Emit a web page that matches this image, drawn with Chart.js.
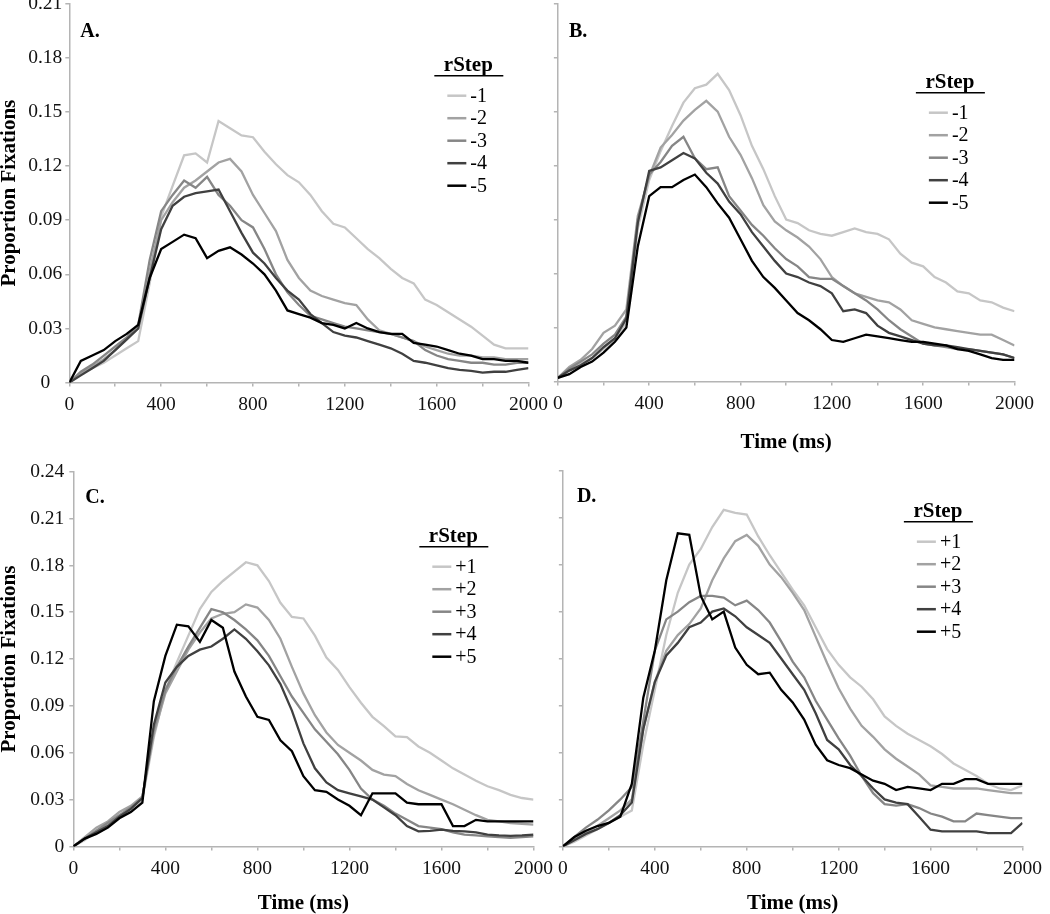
<!DOCTYPE html>
<html>
<head>
<meta charset="utf-8">
<script src="https://cdn.jsdelivr.net/npm/chart.js@4.4.1/dist/chart.umd.min.js"></script>
<style>
  html, body { margin: 0; padding: 0; background: #fff; }
  body { width: 1050px; height: 914px; position: relative; overflow: hidden; }
  .panel { position: absolute; }
</style>
</head>
<body>
<div class="panel" id="panelA"></div>
<div class="panel" id="panelB"></div>
<div class="panel" id="panelC"></div>
<div class="panel" id="panelD"></div>
<script>
// Time points (ms)
const timeMs = [0, 50, 100, 150, 200, 250, 300, 350, 400, 450, 500, 550, 600, 650, 700, 750, 800, 850, 900, 950,
  1000, 1050, 1100, 1150, 1200, 1250, 1300, 1350, 1400, 1450, 1500, 1550, 1600, 1650, 1700, 1750, 1800, 1850, 1900, 1950, 2000];

const xTicks = [0, 200, 400, 600, 800, 1000, 1200, 1400, 1600, 1800, 2000];
const yTicksTop = [0, 0.03, 0.06, 0.09, 0.12, 0.15, 0.18, 0.21];
const yTicksBottom = [0, 0.03, 0.06, 0.09, 0.12, 0.15, 0.18, 0.21, 0.24];

const labelsNeg = ['-1', '-2', '-3', '-4', '-5'];
const labelsPos = ['+1', '+2', '+3', '+4', '+5'];

// Panel A (rStep -1 .. -5)
const aM1 = [0, .005, .008, .011, .015, .019, .023, .055, .092, .109, .126, .127, .122, .145, .141, .137, .136, .128, .121, .115, .111, .104, .095, .088, .086, .080, .074, .069, .063, .058, .055, .046, .043, .039, .035, .031, .026, .021, .019, .019, .019];
const aM2 = [0, .005, .009, .013, .018, .024, .030, .062, .090, .100, .108, .112, .117, .122, .124, .117, .104, .094, .084, .068, .058, .051, .048, .046, .044, .043, .035, .029, .027, .025, .023, .020, .018, .016, .015, .015, .014, .014, .013, .013, .013];
const aM3 = [0, .006, .010, .015, .020, .025, .032, .068, .095, .104, .112, .108, .114, .104, .098, .090, .086, .074, .060, .050, .043, .037, .035, .033, .031, .030, .029, .028, .027, .025, .023, .018, .015, .013, .012, .011, .011, .010, .010, .011, .011];
const aM4 = [0, .004, .008, .012, .018, .024, .030, .058, .085, .098, .103, .105, .106, .107, .095, .083, .072, .066, .058, .051, .046, .038, .033, .028, .026, .025, .023, .021, .019, .016, .012, .011, .0095, .008, .007, .0065, .0055, .006, .006, .007, .008];
const aM5 = [0, .012, .015, .018, .023, .027, .032, .058, .074, .078, .082, .080, .069, .073, .075, .071, .066, .060, .051, .040, .038, .036, .033, .032, .030, .033, .030, .028, .027, .027, .022, .021, .020, .018, .016, .015, .013, .013, .012, .012, .011];

// Panel B (rStep -1 .. -5)
const bM1 = [.002, .006, .010, .013, .018, .023, .033, .085, .112, .128, .142, .155, .163, .165, .171, .162, .148, .131, .118, .103, .090, .088, .084, .082, .081, .083, .085, .083, .082, .079, .071, .066, .064, .058, .055, .050, .049, .045, .044, .041, .039];
const bM2 = [.002, .008, .012, .018, .027, .031, .040, .092, .114, .130, .137, .145, .151, .156, .150, .136, .126, .113, .098, .089, .084, .080, .075, .068, .058, .053, .049, .047, .045, .044, .040, .034, .032, .030, .029, .028, .027, .026, .026, .023, .020];
const bM3 = [.002, .007, .011, .015, .021, .026, .036, .090, .115, .122, .131, .136, .124, .118, .119, .103, .095, .087, .081, .074, .068, .064, .058, .057, .057, .053, .049, .045, .040, .034, .029, .025, .021, .020, .019, .018, .018, .017, .016, .015, .013];
const bM4 = [.002, .006, .009, .013, .019, .024, .035, .088, .117, .119, .123, .127, .124, .116, .110, .100, .093, .083, .075, .067, .060, .058, .055, .053, .049, .039, .040, .038, .031, .027, .025, .023, .021, .020, .020, .019, .018, .017, .016, .015, .013];
const bM5 = [.002, .004, .008, .011, .016, .022, .030, .075, .103, .108, .108, .112, .115, .108, .099, .091, .079, .067, .058, .052, .045, .038, .034, .029, .023, .022, .024, .026, .025, .024, .023, .022, .022, .021, .020, .018, .017, .015, .013, .012, .012];

// Panel C (rStep +1 .. +5)
const cP1 = [0, .004, .010, .014, .019, .023, .030, .070, .100, .118, .135, .152, .163, .170, .176, .182, .180, .170, .156, .147, .146, .135, .121, .113, .102, .092, .083, .077, .0705, .070, .064, .060, .055, .050, .046, .042, .0385, .036, .033, .031, .030];
const cP2 = [0, .006, .012, .016, .022, .026, .032, .072, .098, .112, .126, .137, .146, .149, .150, .155, .153, .145, .133, .115, .098, .084, .073, .065, .060, .055, .049, .046, .045, .040, .036, .033, .030, .027, .0235, .020, .017, .016, .015, .0145, .014];
const cP3 = [0, .005, .010, .015, .020, .025, .031, .075, .100, .115, .128, .140, .152, .150, .145, .139, .132, .122, .109, .096, .0855, .075, .067, .059, .049, .037, .030, .026, .021, .017, .013, .012, .011, .009, .0075, .007, .0064, .006, .0055, .006, .0065];
const cP4 = [0, .005, .009, .013, .019, .024, .031, .078, .105, .115, .122, .126, .128, .133, .139, .133, .125, .116, .104, .087, .066, .050, .041, .036, .034, .032, .030, .025, .020, .013, .0096, .010, .0107, .010, .0096, .009, .0075, .007, .0068, .007, .0075];
const cP5 = [0, .005, .008, .012, .018, .022, .028, .093, .122, .142, .141, .131, .145, .140, .112, .096, .083, .081, .068, .061, .045, .036, .035, .030, .026, .020, .034, .034, .034, .028, .027, .027, .027, .013, .013, .017, .016, .016, .016, .016, .016];

// Panel D (rStep +1 .. +5)
const dP1 = [0, .003, .007, .011, .015, .019, .023, .065, .100, .135, .162, .180, .190, .204, .215, .213, .212, .198, .186, .175, .164, .154, .140, .126, .116, .108, .102, .094, .083, .077, .072, .068, .064, .059, .053, .049, .045, .040, .037, .036, .039];
const dP2 = [0, .005, .009, .013, .018, .023, .030, .075, .105, .125, .135, .142, .152, .170, .184, .195, .199, .192, .180, .172, .162, .151, .134, .117, .101, .088, .077, .070, .062, .056, .051, .046, .039, .038, .037, .037, .037, .036, .035, .034, .034];
const dP3 = [0, .006, .012, .017, .023, .030, .038, .080, .125, .145, .150, .156, .160, .160, .159, .154, .157, .151, .143, .131, .118, .108, .093, .081, .069, .058, .045, .034, .027, .026, .027, .0245, .021, .019, .016, .016, .021, .020, .019, .018, .018];
const dP4 = [0, .004, .008, .011, .015, .020, .028, .075, .105, .122, .130, .140, .143, .150, .152, .147, .140, .135, .130, .120, .110, .100, .085, .068, .062, .052, .045, .037, .030, .028, .027, .019, .0107, .0096, .0096, .0096, .0096, .0085, .0085, .0085, .015];
const dP5 = [0, .006, .010, .013, .015, .019, .040, .095, .125, .170, .200, .199, .160, .145, .150, .127, .116, .110, .111, .100, .092, .081, .065, .055, .052, .050, .046, .042, .040, .036, .038, .037, .036, .040, .040, .043, .043, .040, .040, .040, .040];

const seriesColors = ['#c6c6c6', '#a2a2a2', '#868686', '#404040', '#000000'];
const FONT = "'Liberation Serif', 'Times New Roman', serif";
const AXIS_GRAY = '#b4b4b4';

// letter + custom "rStep" legend drawn inside the plot
const panelDecor = {
    id: 'panelDecor',
    afterDraw(chart, args, opts) {
        const { ctx, chartArea: a } = chart;
        ctx.save();
        ctx.fillStyle = '#000';
        ctx.font = 'bold 20px ' + FONT;
        ctx.textAlign = 'left';
        ctx.textBaseline = 'alphabetic';
        ctx.fillText(opts.letter, a.left + opts.letterX, a.top + opts.letterY);

        const lx = a.left + opts.legX, ly = a.top + opts.legY;
        ctx.font = 'bold 21px ' + FONT;
        ctx.textAlign = 'center';
        ctx.textBaseline = 'middle';
        ctx.fillText('rStep', lx + 34, ly - 10);
        ctx.strokeStyle = '#000';
        ctx.lineWidth = 1.5;
        ctx.beginPath();
        ctx.moveTo(lx, ly); ctx.lineTo(lx + 69, ly);
        ctx.stroke();

        ctx.font = '20px ' + FONT;
        ctx.textAlign = 'left';
        chart.data.datasets.forEach((ds, i) => {
            const y = ly + 20 + i * 22.5;
            ctx.strokeStyle = ds.borderColor;
            ctx.lineWidth = 2.5;
            ctx.beginPath();
            ctx.moveTo(lx + 13, y); ctx.lineTo(lx + 32, y);
            ctx.stroke();
            ctx.fillStyle = '#000';
            ctx.fillText(ds.label, lx + 36, y + 1);
        });
        ctx.restore();
    }
};

function fmtY(v) {
    return String(Math.round(v * 100) / 100);
}

function makeConfig(p) {
    return {
        type: 'line',
        data: {
            datasets: p.series.map((s, i) => ({
                label: p.labels[i],
                data: s.map((v, k) => ({ x: timeMs[k], y: v })),
                borderColor: seriesColors[i],
                borderWidth: 2.3,
                pointRadius: 0,
                tension: 0,
                fill: false,
                order: 4 - i
            }))
        },
        options: {
            responsive: false,
            animation: false,
            events: [],
            layout: { padding: 0 },
            plugins: {
                legend: { display: false },
                tooltip: { enabled: false },
                panelDecor: p.decor
            },
            scales: {
                x: {
                    type: 'linear',
                    min: 0,
                    max: 2000,
                    afterBuildTicks: s => { s.ticks = xTicks.map(v => ({ value: v })); },
                    ticks: {
                        autoSkip: false,
                        maxRotation: 0,
                        padding: 7,
                        color: '#111',
                        font: { family: FONT, size: 19.5 },
                        callback: v => (v % 400 === 0 ? String(v) : '')
                    },
                    grid: { drawOnChartArea: false, drawTicks: true, tickLength: 4, color: AXIS_GRAY, lineWidth: 1.5 },
                    border: { display: true, color: AXIS_GRAY, width: 1.5 },
                    title: {
                        display: p.xTitle,
                        text: 'Time (ms)',
                        color: '#000',
                        font: { family: FONT, size: 21, weight: 'bold' },
                        padding: { top: p.xTitlePad, bottom: 0 }
                    }
                },
                y: {
                    min: 0,
                    max: p.yMax,
                    afterBuildTicks: s => { s.ticks = p.yTicks.map(v => ({ value: v })); },
                    ticks: {
                        padding: p.yTickPad,
                        crossAlign: p.crossAlign,
                        color: '#111',
                        font: { family: FONT, size: 19.5 },
                        callback: v => (p.yLabels ? fmtY(v) : '')
                    },
                    grid: { drawOnChartArea: false, drawTicks: true, tickLength: 4, color: AXIS_GRAY, lineWidth: 1.5 },
                    border: { display: true, color: AXIS_GRAY, width: 1.5 },
                    title: {
                        display: p.yLabels,
                        text: 'Proportion Fixations',
                        color: '#000',
                        font: { family: FONT, size: 21, weight: 'bold' },
                        padding: { top: 0, bottom: p.yTitlePad }
                    }
                }
            }
        },
        plugins: [panelDecor]
    };
}

// build a panel so that its plot area lands on the given box
function buildPanel(p) {
    const holder = document.getElementById(p.id);
    const make = (w, h) => {
        holder.innerHTML = '';
        const cv = document.createElement('canvas');
        cv.width = w; cv.height = h;
        cv.style.width = w + 'px'; cv.style.height = h + 'px';
        holder.appendChild(cv);
        return new Chart(cv, makeConfig(p));
    };
    let chart = make(600, 480);
    const a = chart.chartArea;
    const extraW = chart.width - (a.right - a.left);
    const extraH = chart.height - (a.bottom - a.top);
    chart.destroy();
    chart = make(Math.round(p.area.right - p.area.left + extraW), Math.round(p.area.bottom - p.area.top + extraH));
    const b = chart.chartArea;
    holder.style.left = (p.area.left - b.left) + 'px';
    holder.style.top = (p.area.top - b.top) + 'px';
    return chart;
}

const panels = [
    {
        id: 'panelA', series: [aM1, aM2, aM3, aM4, aM5], labels: labelsNeg,
        yMax: 0.21, yTicks: yTicksTop, yLabels: true, xTitle: false, xTitlePad: 8,
        crossAlign: 'center', yTickPad: 3, yTitlePad: 3,
        area: { left: 69, right: 528, top: 4, bottom: 383 },
        decor: { letter: 'A.', letterX: 11, letterY: 33, legX: 365, legY: 72 }
    },
    {
        id: 'panelB', series: [bM1, bM2, bM3, bM4, bM5], labels: labelsNeg,
        yMax: 0.21, yTicks: yTicksTop, yLabels: false, xTitle: true, xTitlePad: 7,
        crossAlign: 'near', yTickPad: 3, yTitlePad: 0,
        area: { left: 558, right: 1015, top: 4, bottom: 382 },
        decor: { letter: 'B.', letterX: 11, letterY: 33, legX: 358, legY: 89 }
    },
    {
        id: 'panelC', series: [cP1, cP2, cP3, cP4, cP5], labels: labelsPos,
        yMax: 0.24, yTicks: yTicksBottom, yLabels: true, xTitle: true, xTitlePad: 3,
        crossAlign: 'near', yTickPad: 5, yTitlePad: 3,
        area: { left: 73, right: 533, top: 472, bottom: 847 },
        decor: { letter: 'C.', letterX: 12, letterY: 31, legX: 346, legY: 75 }
    },
    {
        id: 'panelD', series: [dP1, dP2, dP3, dP4, dP5], labels: labelsPos,
        yMax: 0.24, yTicks: yTicksBottom, yLabels: false, xTitle: true, xTitlePad: 3,
        crossAlign: 'near', yTickPad: 3, yTitlePad: 0,
        area: { left: 563, right: 1023, top: 471, bottom: 847 },
        decor: { letter: 'D.', letterX: 14, letterY: 31, legX: 341, legY: 51 }
    }
];

panels.forEach(buildPanel);
</script>
</body>
</html>
